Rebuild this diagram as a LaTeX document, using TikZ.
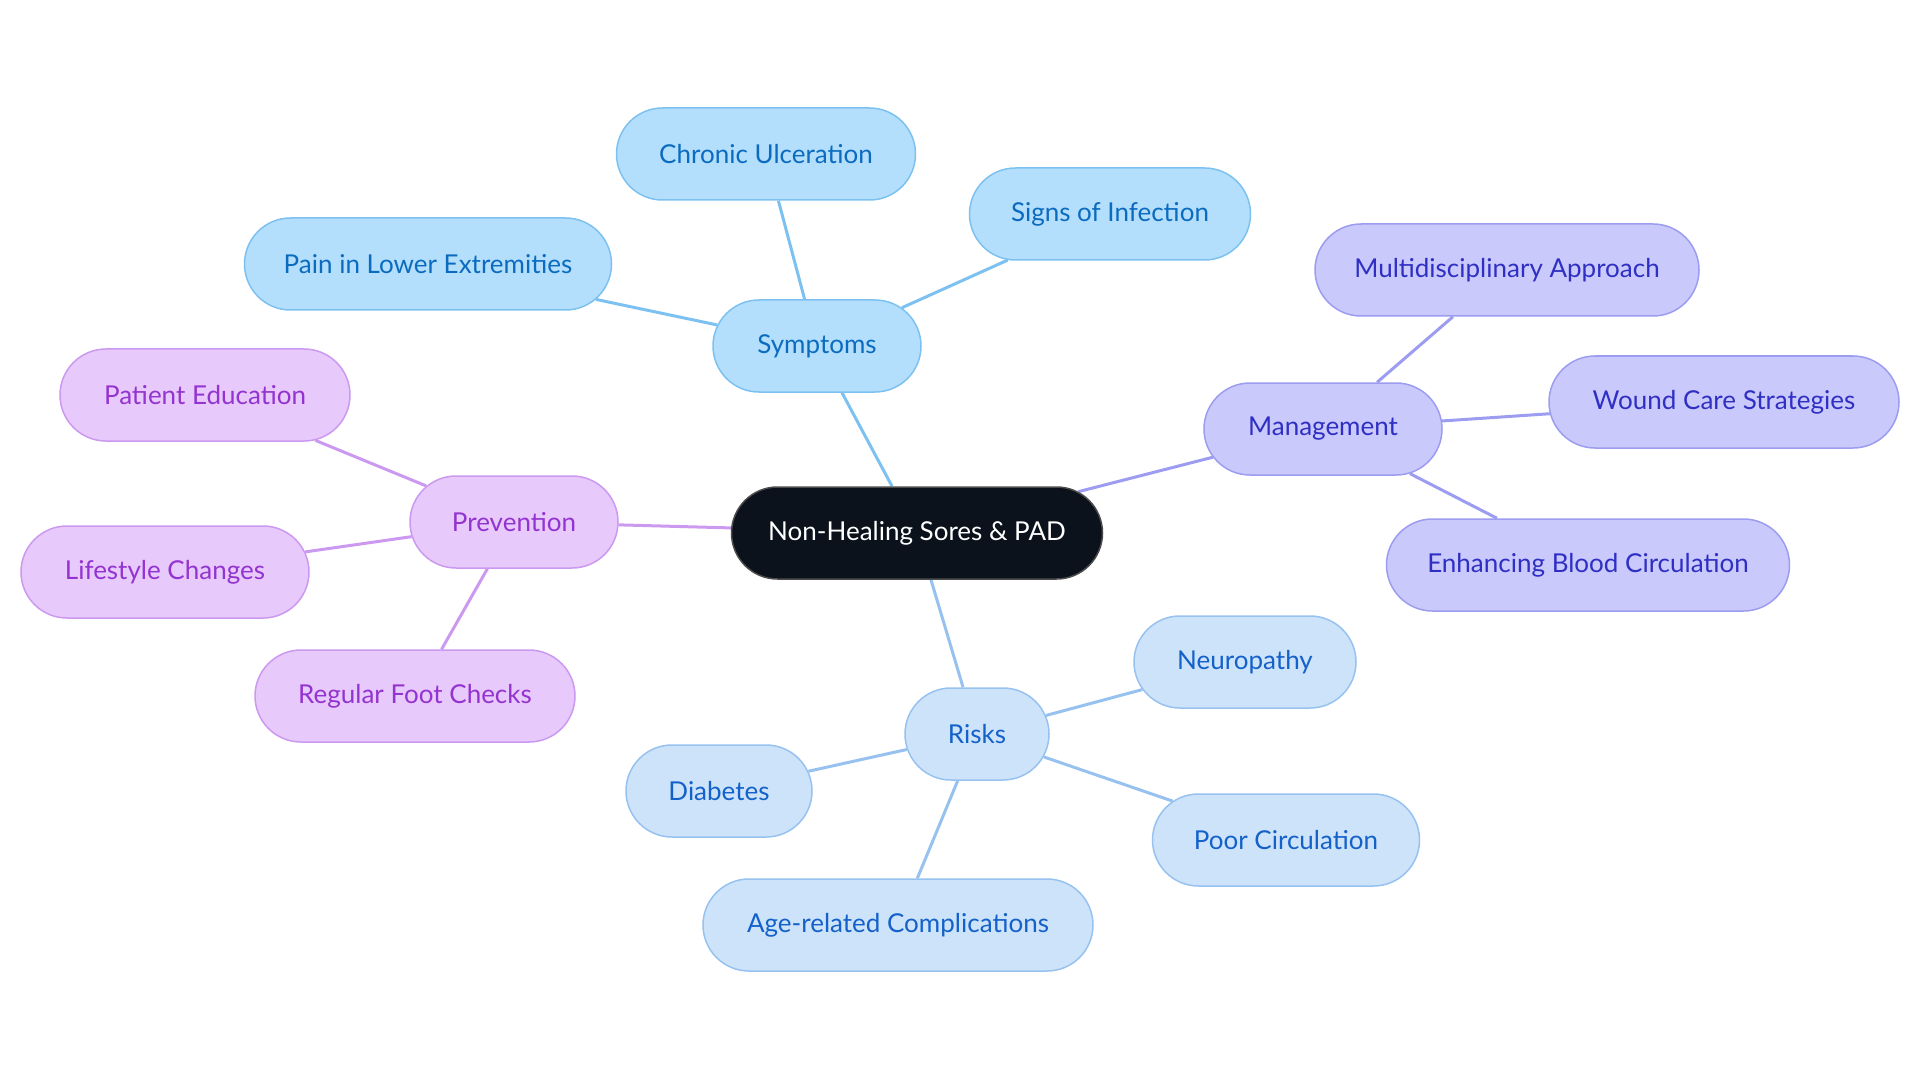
\documentclass[tikz,border=0pt]{standalone}
\usepackage{fontspec}
\setmainfont{Lato}
\usetikzlibrary{shapes.misc,backgrounds}
\definecolor{symFill}{HTML}{B3DFFD}
\definecolor{symLine}{HTML}{7DC1F0}
\definecolor{symText}{HTML}{0B6BBF}
\definecolor{manFill}{HTML}{C9C9FB}
\definecolor{manLine}{HTML}{9C9CF0}
\definecolor{manText}{HTML}{2F2FC4}
\definecolor{preFill}{HTML}{E7C9FB}
\definecolor{preLine}{HTML}{CC99F0}
\definecolor{preText}{HTML}{9333D0}
\definecolor{riskFill}{HTML}{CCE3FA}
\definecolor{riskLine}{HTML}{97C2F0}
\definecolor{riskText}{HTML}{1461C9}
\definecolor{coreFill}{HTML}{0C121C}
\begin{document}
\begin{tikzpicture}[x=1pt,y=-1pt,
  box/.style={rounded rectangle, minimum height=92pt, line width=1.5pt, inner sep=0pt, font=\fontsize{26}{30}\selectfont},
  core/.style={box, fill=coreFill, draw=black!70, text=white},
  sym/.style={box, fill=symFill, draw=symLine, text=symText},
  man/.style={box, fill=manFill, draw=manLine, text=manText},
  pre/.style={box, fill=preFill, draw=preLine, text=preText},
  risk/.style={box, fill=riskFill, draw=riskLine, text=riskText},
  symE/.style={draw=symLine, line width=3pt},
  manE/.style={draw=manLine, line width=3pt},
  preE/.style={draw=preLine, line width=3pt},
  riskE/.style={draw=riskLine, line width=3pt}]
\useasboundingbox (0,0) rectangle (1920,1083);

\node[core, minimum width=371pt] (c) at (917,533) {Non-Healing Sores \& PAD};

\node[sym, minimum width=208pt] (s) at (817,346) {Symptoms};
\node[sym, minimum width=299pt] (s1) at (766,154) {Chronic Ulceration};
\node[sym, minimum width=281pt] (s2) at (1110,214) {Signs of Infection};
\node[sym, minimum width=367pt] (s3) at (428,264) {Pain in Lower Extremities};

\node[man, minimum width=238pt] (m) at (1323,429) {Management};
\node[man, minimum width=384pt] (m1) at (1507,270) {Multidisciplinary Approach};
\node[man, minimum width=350pt] (m2) at (1724,402) {Wound Care Strategies};
\node[man, minimum width=403pt] (m3) at (1588,565) {Enhancing Blood Circulation};

\node[pre, minimum width=208pt] (p) at (514,522) {Prevention};
\node[pre, minimum width=290pt] (p1) at (205,395) {Patient Education};
\node[pre, minimum width=288pt] (p2) at (165,572) {Lifestyle Changes};
\node[pre, minimum width=320pt] (p3) at (415,696) {Regular Foot Checks};

\node[risk, minimum width=144pt] (r) at (977,734) {Risks};
\node[risk, minimum width=222pt] (r1) at (1245,662) {Neuropathy};
\node[risk, minimum width=186pt] (r2) at (719,791) {Diabetes};
\node[risk, minimum width=267pt] (r3) at (1286,840) {Poor Circulation};
\node[risk, minimum width=390pt] (r4) at (898,925) {Age-related Complications};

\begin{scope}[on background layer]
\draw[symE] (c) -- (s);
\draw[symE] (s) -- (s1);
\draw[symE] (s) -- (s2);
\draw[symE] (s) -- (s3);
\draw[manE] (c) -- (m);
\draw[manE] (m) -- (m1);
\draw[manE] (m) -- (m2);
\draw[manE] (m) -- (m3);
\draw[preE] (c) -- (p);
\draw[preE] (p) -- (p1);
\draw[preE] (p) -- (p2);
\draw[preE] (p) -- (p3);
\draw[riskE] (c) -- (r);
\draw[riskE] (r) -- (r1);
\draw[riskE] (r) -- (r2);
\draw[riskE] (r) -- (r3);
\draw[riskE] (r) -- (r4);
\end{scope}
\end{tikzpicture}
\end{document}
